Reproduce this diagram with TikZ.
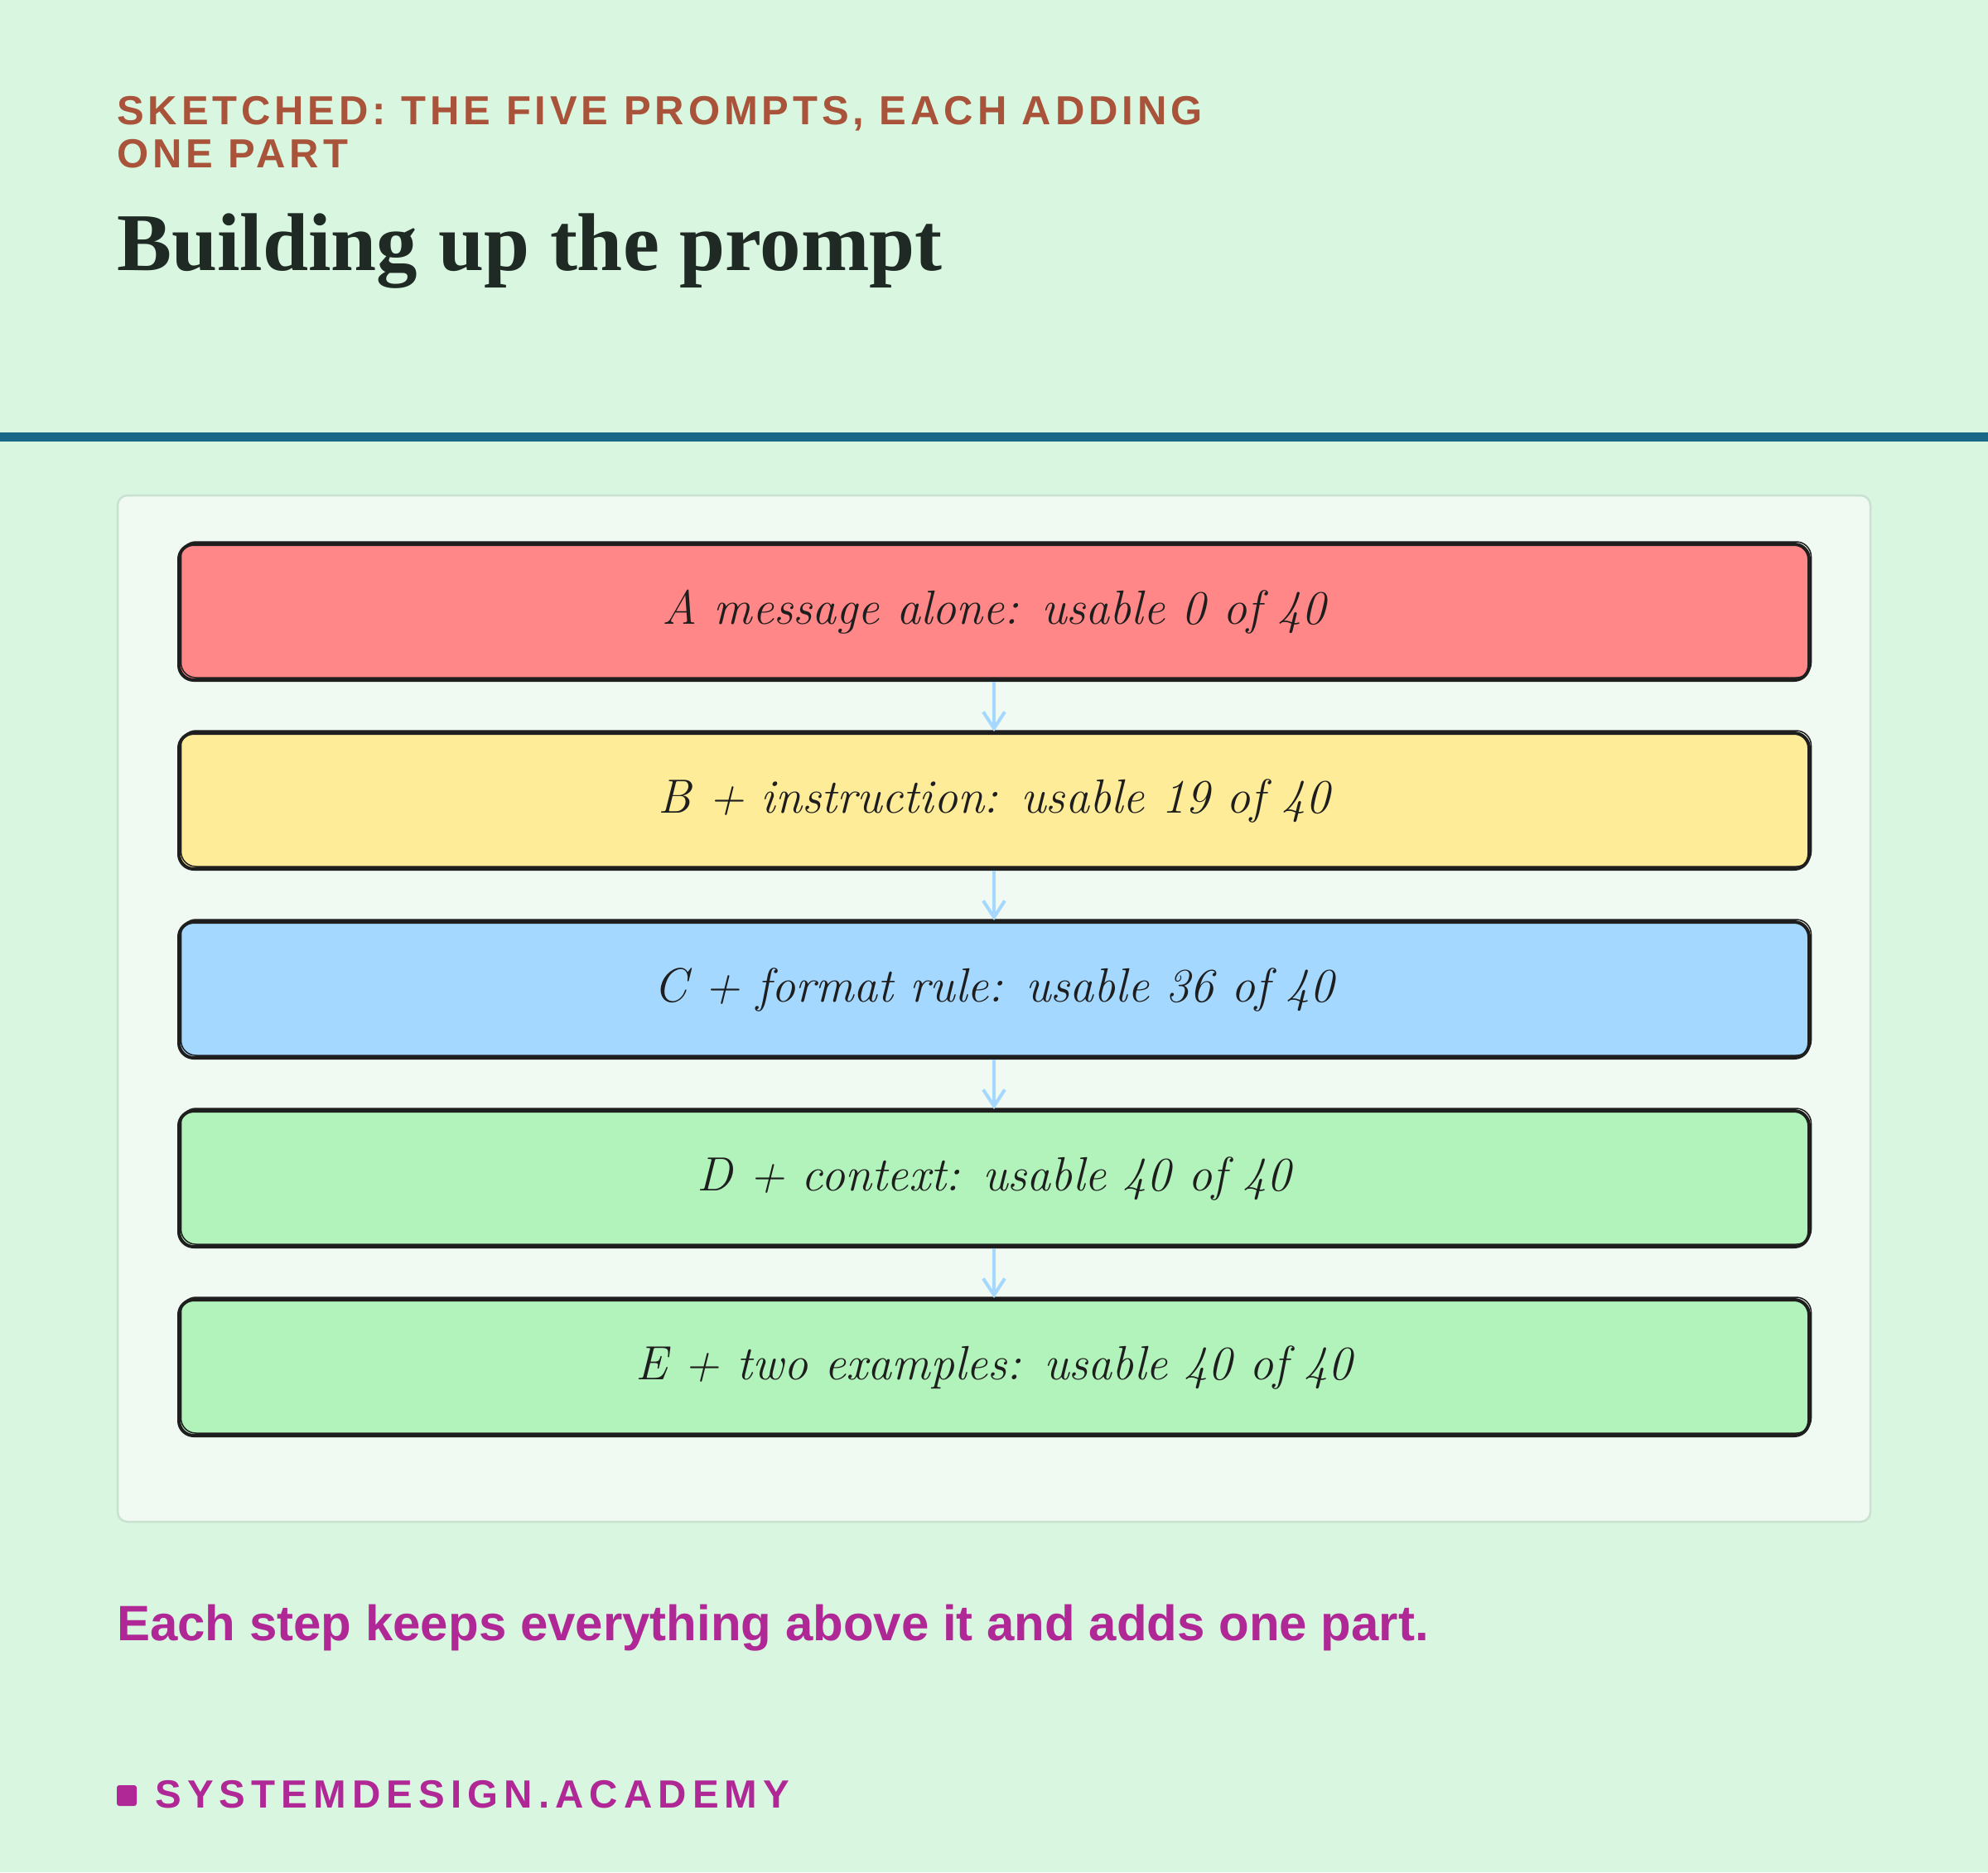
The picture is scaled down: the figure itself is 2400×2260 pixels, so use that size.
\documentclass[tikz,border=0pt]{standalone}
\usepackage{fontspec}
\usetikzlibrary{positioning,arrows.meta}
\newfontfamily\kickerfont[LetterSpace=10]{Liberation Sans}
\newfontfamily\brandfont[LetterSpace=15]{Liberation Sans}
\newfontfamily\capfont{Liberation Sans}
\newfontfamily\headfont{Liberation Serif}
\definecolor{pagebg}{HTML}{D9F7E0}
\definecolor{panelbg}{HTML}{F0FAF2}
\definecolor{panelline}{HTML}{C8E1D0}
\definecolor{rust}{HTML}{A8533A}
\definecolor{headink}{HTML}{1F2A24}
\definecolor{rule}{HTML}{1A6888}
\definecolor{brand}{HTML}{B02896}
\definecolor{ink}{HTML}{1E1E1E}
\definecolor{flowblue}{HTML}{A5D8FF}
\definecolor{fillA}{HTML}{FF8787}
\definecolor{fillB}{HTML}{FFEC99}
\definecolor{fillC}{HTML}{A5D8FF}
\definecolor{fillD}{HTML}{B2F2BB}
\begin{document}
\begin{tikzpicture}[x=1pt,y=-1pt,
    every node/.style={inner sep=0pt},
    stepbox/.style={draw=ink, line width=4pt, rounded corners=18pt,
      minimum width=1968pt, minimum height=164pt, text=ink,
      font=\fontsize{58}{64}\selectfont\itshape,
      postaction={draw=ink, line width=1.5pt, transform canvas={xshift=2.5pt,yshift=3pt}}},
    flow/.style={draw=flowblue, line width=4pt, -{Straight Barb[length=20pt,width=26pt]}}]
    \useasboundingbox (0,0) rectangle (2400,2260);
    \fill[pagebg] (0,0) rectangle (2400,2260);
    % header
    \node[anchor=base west, text=rust, font=\kickerfont\bfseries\fontsize{49}{52}\selectfont] (kick1) at (141,150) {SKETCHED: THE FIVE PROMPTS, EACH ADDING};
    \node[anchor=base west, text=rust, font=\kickerfont\bfseries\fontsize{49}{52}\selectfont] (kick2) at (141,202) {ONE PART};
    \node[anchor=base west, text=headink, font=\headfont\bfseries\fontsize{99}{102}\selectfont] (title) at (141,326) {Building up the prompt};
    \fill[rule] (0,522) rectangle (2400,533);
    % panel
    \filldraw[fill=panelbg, draw=panelline, line width=2.5pt, rounded corners=12pt] (142,598) rectangle (2258,1837);
    \node[stepbox, fill=fillA] (pa) at (1200,739) {A message alone: usable 0 of 40};
    \node[stepbox, fill=fillB, below=60pt of pa] (pb) {B + instruction: usable 19 of 40};
    \node[stepbox, fill=fillC, below=60pt of pb] (pc) {C + format rule: usable 36 of 40};
    \node[stepbox, fill=fillD, below=60pt of pc] (pd) {D + context: usable 40 of 40};
    \node[stepbox, fill=fillD, below=60pt of pd] (pe) {E + two examples: usable 40 of 40};
    \draw[flow] (pa.south) -- (pb.north);
    \draw[flow] (pb.south) -- (pc.north);
    \draw[flow] (pc.south) -- (pd.north);
    \draw[flow] (pd.south) -- (pe.north);
    % footer
    \node[anchor=base west, text=brand, font=\capfont\bfseries\fontsize{60}{64}\selectfont] (note) at (141,1980) {Each step keeps everything above it and adds one part.};
    \fill[brand, rounded corners=3pt] (141,2155) rectangle (165,2180);
    \node[anchor=base west, text=brand, font=\brandfont\bfseries\fontsize{47.5}{50}\selectfont] (brandname) at (187,2182) {SYSTEMDESIGN.ACADEMY};
\end{tikzpicture}
\end{document}
